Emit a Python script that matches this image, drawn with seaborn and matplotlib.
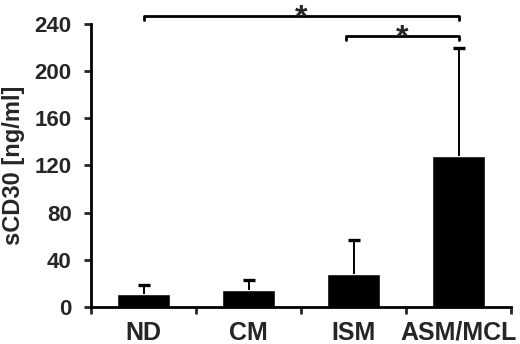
import numpy as np
import pandas as pd
import seaborn as sns
import matplotlib.pyplot as plt
from matplotlib.ticker import FixedLocator

# values
groups = ['ND', 'CM', 'ISM', 'ASM/MCL']
means = [11, 14.5, 28, 128]
sd_upper = [7.5, 8, 29, 91.5]
yticks = [0, 40, 80, 120, 160, 200, 240]

data = pd.DataFrame({'group': groups, 'sCD30': means})

sns.set_style('white')
plt.rcParams['font.family'] = ['Liberation Sans', 'DejaVu Sans']
plt.rcParams['font.weight'] = 'bold'

fig = plt.figure(figsize=(5.2, 3.44), dpi=100)
ax = fig.add_axes([0.175, 0.1076, 0.808, 0.8227])

sns.barplot(data=data, x='group', y='sCD30', color='black', width=0.5,
            saturation=1, ax=ax)

# upward-only error bars: stem + top cap
xpos = np.arange(len(groups))
tops = np.array(means) + np.array(sd_upper)
ax.vlines(xpos, means, tops, color='black', lw=1.4)
ax.plot(xpos, tops, ls='none', marker='_', ms=8, mew=2.4, color='black')

ax.set_xlim(-0.5, len(groups) - 0.5)
ax.set_ylim(0, 240)
ax.set_yticks(yticks)
ax.set_xlabel('')
ax.set_ylabel('sCD30 [ng/ml]', fontsize=17, fontweight='bold')
ax.yaxis.set_label_coords(-0.158, 0.5)

for side in ['top', 'right']:
    ax.spines[side].set_visible(False)
for side in ['left', 'bottom']:
    ax.spines[side].set_linewidth(2)
    ax.spines[side].set_color('black')

ax.tick_params(axis='y', which='major', direction='out', length=5, width=2,
               labelsize=16, pad=9, left=True)
ax.tick_params(axis='x', which='major', length=0, labelsize=18, pad=10)
ax.xaxis.set_minor_locator(FixedLocator([i - 0.5 for i in range(len(groups) + 1)]))
ax.tick_params(axis='x', which='minor', direction='out', length=5, width=2, bottom=True)
for lab in ax.get_xticklabels() + ax.get_yticklabels():
    lab.set_fontweight('bold')


# significance brackets
def bracket(x1, x2, y, drop, label):
    ax.plot([x1, x1, x2, x2], [y - drop, y, y, y - drop], color='black',
            lw=2, clip_on=False)
    ax.text((x1 + x2) / 2, y - 9, label, ha='center', va='baseline',
            fontsize=23, fontweight='bold', clip_on=False)


bracket(0, 3, 247, 4, '*')
bracket(1.93, 3, 230, 4, '*')

fig.savefig('out.png', dpi=100)
